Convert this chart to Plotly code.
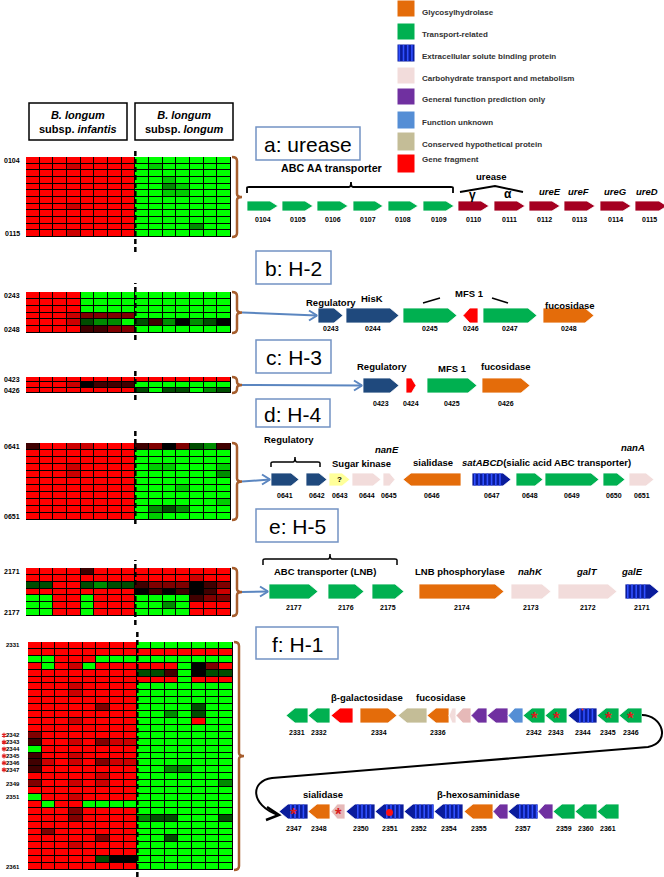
import plotly.graph_objects as go

W, H = 664, 877
FONT = "Arial, 'Liberation Sans', sans-serif"

# ---------------- heatmap data (log-ratio levels) -------------
LEVELS = {'R': -1.0, 'r': -0.8, 'd': -0.5, 'k': -0.25, 'K': 0.0,
          'g': 0.3, 'm': 0.55, 'l': 0.8, 'G': 1.0}

HM_A = ["RRRRRRRRGGGGGGG", "RRRrRRRRGlGGGGG", "RRRRRRRRGGGGGGG", "RRRRRRRRGGlGGGG",
        "RRRRRRRRGGmlGGG", "RRRRRRRRGGllGGG", "RRRRRRRRGGGGGGG", "RRRrRRRRGGGGGGG",
        "RRRRRRRRGGGGGGG", "RRRRRRRRGGGGGGG", "RRRRRRRRGGGGmGG", "RRRrRRRRGGGGGGG"]
HM_B = ["RRRRGGGGGGGGGGG", "RRRRGGGGGGGGGGG", "RRRRGGGGGGGGGGG", "RRRrddddGGGGGGG",
        "RRRrgmmGgkmKmgK", "RRRRkkddGGGGGGG"]
HM_C = ["RRRRRRRRRRRRRRR", "RRRrKkkkGGGGGGG", "RRRRRRRRgGggGmg"]
HM_D = ["kRRrrRRRkdKdgmk", "RRRRRRRRGGGGGGG", "RRRRRRRRGGGGGGG", "RRRrRRRRGllGGGl",
        "RRRrRRRRGGGGGGm", "RRRRRRRRGGGGGGG", "RRRRRRRRGGGlGGG", "RRRRRRRRGGGGGGG",
        "RRRRRRRRGGGGGGl", "RRRRRRRRGmgmGGG", "RRRRRRRRGlGGGGG"]
HM_E = ["RRRRkRRRRRRRRRR", "RRRRRRRRRRRRrRR", "ggRRgmggkdddKkd", "RRRRRRRRKkKkKkr",
        "GGRRGRRRGGGGkdd", "GGRRGRRRGGmGRRR", "GGRRGRRRGGGGRRR"]
HM_F = ["RRRRRRRRGGGGGGG", "RRRRRRRRRRRRRRR", "GGRRRGGGGGGGGGG", "RGRrGRRRRRRGKdR",
        "RRRRRRRRggkGKgg", "RRRRRRRRRRRGRRR", "RRRrRRRRGGGGGGG", "RRRrRRRRGGGGGGG",
        "RRRRRRRRGGGGGGG", "RRRRRdRRGGGGgGG", "RRRRRRRRGGmGgGG", "RRRrRRRRGGGGRGG",
        "RRRRRRRRGGGGGGG", "dRRRRRRRGGGGGGG", "kRRrRdrrGGGGGGG", "GRRRRRRRGGGGGGG",
        "kRRrRRRRGGGGGGG", "krRrRdrrGGGGGGG", "kRRRRRRRGGmmGGG", "RRRRRrRRGGGGGGG",
        "dRRrRrRRGGGGGGm", "RRRRRRRRGGGGGGG", "GRRrRRRRGGGGGGG", "RGRRGGGGGGGGGGG",
        "RRRdRRRRGGGGGGG", "RRRdRRRRmggGGGg", "RRRRRRRRGGGGGGG", "RdRRRRRRGGGGGGG",
        "RRRRRdRRGGgGGGG", "RRRrRRRRGGGGGGG", "RRRRRRRRGGGGGGG", "RRRRRgKKGGGGGGG",
        "RRRRRRRRGGGGGGG"]

ROWLAB_A = [(0, "0104", False), (11, "0115", False)]
ROWLAB_B = [(0, "0243", False), (5, "0248", False)]
ROWLAB_C = [(0, "0423", False), (2, "0426", False)]
ROWLAB_D = [(0, "0641", False), (10, "0651", False)]
ROWLAB_E = [(0, "2171", False), (6, "2177", False)]
ROWLAB_F = [(0, "2331", False), (13, "2342", True), (14, "2343", True), (15, "2344", True),
            (16, "2345", True), (17, "2346", True), (18, "2347", True), (20, "2349", False),
            (22, "2351", False), (32, "2361", False)]

# ---------------- gene clusters: (locus, start, end, strand, category, mark) ----------
GENES_A = [("0104", 247, 278, 1, "transport", ""), ("0105", 282, 313, 1, "transport", ""),
           ("0106", 317, 348, 1, "transport", ""), ("0107", 353, 383, 1, "transport", ""),
           ("0108", 388, 418, 1, "transport", ""), ("0109", 423, 454, 1, "transport", ""),
           ("0110", 458, 489, 1, "urease", ""), ("0111", 494, 525, 1, "urease", ""),
           ("0112", 529, 560, 1, "urease", ""), ("0113", 564, 595, 1, "urease", ""),
           ("0114", 600, 631, 1, "urease", ""), ("0115", 635, 667, 1, "urease", "")]
GENES_B = [("0243", 318, 343, 1, "reg", ""), ("0244", 346, 399, 1, "reg", ""),
           ("0245", 403, 457, 1, "transport", ""), ("0246", 463, 478, -1, "fragment", ""),
           ("0247", 483, 537, 1, "transport", ""), ("0248", 543, 594, 1, "glyco", "")]
GENES_C = [("0423", 363, 399, 1, "reg", ""), ("0424", 406, 416, 1, "fragment", ""),
           ("0425", 427, 477, 1, "transport", ""), ("0426", 482, 530, 1, "glyco", "")]
GENES_D = [("0641", 271, 299, 1, "reg", ""), ("0642", 306, 327, 1, "reg", ""),
           ("0643", 329, 350, 1, "kinase", "?"), ("0644", 352, 381, 1, "carb", ""),
           ("0645", 383, 395, 1, "carb", ""), ("0646", 403, 461, -1, "glyco", ""),
           ("0647", 472, 511, 1, "esbp", ""), ("0648", 516, 543, 1, "transport", ""),
           ("0649", 545, 599, 1, "transport", ""), ("0650", 603, 625, 1, "transport", ""),
           ("0651", 629, 654, 1, "carb", "")]
GENES_E = [("2177", 269, 318, 1, "transport", ""), ("2176", 328, 364, 1, "transport", ""),
           ("2175", 372, 404, 1, "transport", ""), ("2174", 419, 504, 1, "glyco", ""),
           ("2173", 511, 551, 1, "carb", ""), ("2172", 558, 617, 1, "carb", ""),
           ("2171", 625, 659, 1, "esbp", "")]
GENES_F1 = [("2331", 286, 308, -1, "transport", ""), ("2332", 308, 330, -1, "transport", ""),
            ("", 331, 353, -1, "fragment", ""), ("2334", 360, 397, 1, "glyco", ""),
            ("", 398, 427, -1, "conserved", ""), ("2336", 427, 449, -1, "glyco", ""),
            ("", 449, 456, -1, "carb", ""), ("", 456, 471, -1, "carb2", ""),
            ("", 471, 487, -1, "general", ""), ("", 487, 508, -1, "general", ""),
            ("", 508, 523, -1, "unknown", ""), ("2342", 523, 545, -1, "transport", "*"),
            ("2343", 545, 567, -1, "transport", "*"), ("2344", 568, 597, -1, "esbp", "'"),
            ("2345", 597, 619, -1, "transport", "*"), ("2346", 619, 642, -1, "transport", "*")]
GENES_F2 = [("2347", 279, 308, -1, "esbp", "*"), ("2348", 308, 330, -1, "glyco", ""),
            ("", 331, 345, -1, "carb2", "*"), ("2350", 346, 375, -1, "esbp", ""),
            ("2351", 375, 404, -1, "esbp", "o"), ("2352", 404, 434, -1, "esbp", ""),
            ("2354", 434, 463, -1, "esbp", ""), ("2355", 464, 493, -1, "glyco", ""),
            ("", 493, 508, -1, "general", ""), ("2357", 508, 538, -1, "esbp", ""),
            ("", 538, 553, -1, "general", ""), ("2359", 553, 575, -1, "transport", ""),
            ("2360", 575, 597, -1, "transport", ""), ("2361", 597, 619, -1, "transport", "")]

LEGEND_LABELS = ["Glycosylhydrolase", "Transport-related", "Extracellular solute binding protein",
                 "Carbohydrate transport and metabolism", "General function prediction only",
                 "Function unknown", "Conserved hypothetical protein", "Gene fragment"]
LEGEND_CATS = ["glyco", "transport", "esbp", "carb", "general", "unknown", "conserved", "fragment"]

COLORS = {"glyco": "#E46C0A", "transport": "#00B050", "esbp": "#0A1C9C", "carb": "#F2DCDB",
          "carb2": "#E6B9B8", "general": "#7030A0", "unknown": "#558ED5",
          "conserved": "#C4BD97", "fragment": "#FF0000", "urease": "#A50021",
          "reg": "#1F497D", "kinase": "#FFFF99"}
STRIPE = "#3050FF"
BROWN = "#A65E2E"
BLUE = "#5B86C0"
LS = 9.5  # cluster annotation font size

fig = go.Figure()
shapes, annos = [], []

# overlay (diagram) axis spanning the whole page in pixel units
fig.add_trace(go.Scatter(x=[0], y=[0], mode="markers", marker=dict(opacity=0),
                         hoverinfo="skip", showlegend=False, xaxis="x", yaxis="y"))
layout_axes = dict(
    xaxis=dict(domain=[0, 1], range=[0, W], visible=False, fixedrange=True),
    yaxis=dict(domain=[0, 1], range=[H, 0], visible=False, fixedrange=True),
)

def T(text, x, y, size=8, bold=True, color="black", xanchor="center", italic=False, **kw):
    t = text
    if italic:
        t = "<i>" + t + "</i>"
    if bold:
        t = "<b>" + t + "</b>"
    annos.append(dict(text=t, x=x, y=y, xref="x", yref="y", showarrow=False,
                      xanchor=xanchor, yanchor="middle",
                      font=dict(family=FONT, size=size, color=color), **kw))

def line_path(path, color="black", width=1.5, dash=None):
    d = dict(type="path", path=path, xref="x", yref="y", layer="above",
             line=dict(color=color, width=width))
    if dash:
        d["line"]["dash"] = dash
    shapes.append(d)

# ---------------- heatmaps ----------------
HM = [(HM_A, ROWLAB_A, (26, 231, 157, 237), (148, 252)),
      (HM_B, ROWLAB_B, (26, 231, 292, 333), (283, 340)),
      (HM_C, ROWLAB_C, (26, 231, 377, 393), (370, 400)),
      (HM_D, ROWLAB_D, (26, 231, 443, 520), (431, 524)),
      (HM_E, ROWLAB_E, (26, 231, 568, 616), (560, 625)),
      (HM_F, ROWLAB_F, (28, 233, 642, 870), (632, 877))]

for i, (rows, labs, (x0, x1, y0, y1), (d0, d1)) in enumerate(HM):
    n = i + 2
    z = [[LEVELS[c] for c in r] for r in rows]
    fig.add_trace(go.Heatmap(z=z, x=list(range(15)), y=list(range(len(rows))),
                             colorscale=[[0, "#FF0000"], [0.5, "#000000"], [1, "#00FF00"]],
                             zmin=-1, zmax=1, showscale=False, xgap=1, ygap=1,
                             hoverinfo="skip", xaxis=f"x{n}", yaxis=f"y{n}"))
    layout_axes[f"xaxis{n}"] = dict(domain=[x0 / W, x1 / W], range=[-0.5, 14.5],
                                    visible=False, fixedrange=True, anchor=f"y{n}")
    layout_axes[f"yaxis{n}"] = dict(domain=[1 - y1 / H, 1 - y0 / H],
                                    range=[len(rows) - 0.5, -0.5],
                                    visible=False, fixedrange=True, anchor=f"x{n}")
    shapes.append(dict(type="rect", xref="paper", yref="paper", x0=x0 / W, x1=x1 / W,
                       y0=1 - y1 / H, y1=1 - y0 / H, fillcolor="black",
                       line=dict(width=0), layer="below"))
    # dashed separator between subspecies (after 8 infantis strains)
    shapes.append(dict(type="line", xref=f"x{n}", yref="paper", x0=7.5, x1=7.5,
                       y0=1 - d1 / H, y1=1 - d0 / H, layer="above",
                       line=dict(color="black", width=2.5, dash="5px,3px")))
    fs = 6 if len(labs) > 2 else 7
    rh = len(rows) / (y1 - y0)  # rows per pixel on this heatmap's scale
    for (ri, txt, star) in labs:
        annos.append(dict(text="<b>" + txt + "</b>", x=22 / W, y=ri, xref="paper", yref=f"y{n}",
                          showarrow=False, xanchor="right", yanchor="middle",
                          font=dict(family=FONT, size=fs, color="black")))
        if star:
            # small red asterisk drawn on the heatmap's row scale
            cx, r = 4.0, 2.4
            pth = []
            for dx, dy in [(0, r), (r * 0.87, r * 0.5), (r * 0.87, -r * 0.5)]:
                pth.append(f"M {(cx - dx) / W},{ri - dy * rh} L {(cx + dx) / W},{ri + dy * rh}")
            shapes.append(dict(type="path", path=" ".join(pth), xref="paper", yref=f"y{n}",
                               line=dict(color="#E02020", width=1.2), layer="above"))
    # brown bracket
    R = x1
    ym = (y0 + y1) / 2
    line_path(f"M {R+1},{y0} Q {R+6},{y0} {R+6},{y0+4} L {R+6},{ym-3} Q {R+6},{ym} {R+11},{ym} "
              f"Q {R+6},{ym} {R+6},{ym+3} L {R+6},{y1-4} Q {R+6},{y1} {R+1},{y1}",
              color=BROWN, width=2.5)

# header boxes
for (bx0, bx1, sub) in [(29, 127, "infantis"), (135, 233, "longum")]:
    shapes.append(dict(type="rect", xref="x", yref="y", x0=bx0, x1=bx1, y0=103, y1=140,
                       line=dict(color="black", width=1.5), layer="above"))
    annos.append(dict(text=f"<b><i>B. longum</i></b><br><b>subsp. <i>{sub}</i></b>",
                      x=(bx0 + bx1) / 2, y=121.5, xref="x", yref="y", showarrow=False,
                      xanchor="center", yanchor="middle",
                      font=dict(family=FONT, size=11, color="black")))

# connectors from brackets to gene clusters
def connector(xs, ys, xe, ye):
    line_path(f"M {xs},{ys} L {xe},{ye}", color=BLUE, width=2)
    line_path(f"M {xe-8},{ye-5} L {xe},{ye} L {xe-8},{ye+5}", color=BLUE, width=2)

connector(242, 312.5, 317, 315.5)
connector(242, 385, 362, 385.5)
connector(242, 481.5, 270, 479.5)
connector(242, 592, 268, 591.5)

# ---------------- genes ----------------
def gene(x0, x1, yc, h, strand, cat, mark):
    L = x1 - x0
    head = min(max(8, 0.6 * h), 0.45 * L)
    t, b = yc - h / 2, yc + h / 2
    if strand > 0:
        pts = [(x0, t), (x1 - head, t), (x1, yc), (x1 - head, b), (x0, b)]
        body = (x0, x1 - head)
    else:
        pts = [(x1, t), (x0 + head, t), (x0, yc), (x0 + head, b), (x1, b)]
        body = (x0 + head, x1)
    path = "M " + " L ".join(f"{x:.1f},{y:.1f}" for x, y in pts) + " Z"
    shapes.append(dict(type="path", path=path, xref="x", yref="y", layer="above",
                       fillcolor=COLORS[cat], line=dict(color="white", width=0.8)))
    if cat == "esbp":
        s = body[0] + 2
        while s < body[1] - 2:
            shapes.append(dict(type="rect", xref="x", yref="y", x0=s, x1=s + 1.6,
                               y0=t + 0.6, y1=b - 0.6, fillcolor=STRIPE,
                               line=dict(width=0), layer="above"))
            s += 4.2
    cx = (x0 + x1) / 2
    if mark == "*":
        T("*", cx, yc + 3, size=17, bold=True, color="#D81E1E")
    elif mark == "?":
        T("?", cx, yc, size=8, bold=True)
    elif mark == "o":
        shapes.append(dict(type="circle", xref="x", yref="y", x0=cx - 3.5, x1=cx + 3.5,
                           y0=yc - 2.5, y1=yc + 4.5, fillcolor="#FF1010",
                           line=dict(width=0), layer="above"))
    elif mark == "'":
        shapes.append(dict(type="circle", xref="x", yref="y", x0=cx - 1, x1=cx + 1,
                           y0=t + 0.5, y1=t + 2.5, fillcolor="#FF3030",
                           line=dict(width=0), layer="above"))

ROWS = [(GENES_A, 206, 10, 219.5), (GENES_B, 315.5, 15, 328.5), (GENES_C, 385.5, 15, 403),
        (GENES_D, 479.5, 13, 495.5), (GENES_E, 591.5, 15, 607.5),
        (GENES_F1, 715.5, 15, 732), (GENES_F2, 811.5, 15, 828)]
for genes, yc, h, ly in ROWS:
    for (lab, x0, x1, strand, cat, mark) in genes:
        gene(x0, x1, yc, h, strand, cat, mark)
        if lab:
            T(lab, min((x0 + x1) / 2, 649), ly, size=7)

# ---------------- cluster annotations ----------------
# a: urease
line_path("M 247,193 L 247,188 Q 247,187 249,187 L 349,187 Q 351,187 351,182 Q 351,187 353,187 "
          "L 451,187 Q 453,187 453,188 L 453,193", width=1.8)
T("ABC AA transporter", 331, 168, size=10.7)
T("urease", 491, 176, size=LS)
line_path("M 460,192 L 495,186 L 523,192", width=1.8)
T("γ", 472, 195, size=12)
T("α", 508, 194, size=12)
for nm, x in [("ureE", 550), ("ureF", 578), ("ureG", 615), ("ureD", 647)]:
    T(nm, x, 191, size=LS, italic=True)
# b: H-2
T("Regulatory", 331, 302, size=LS)
T("HisK", 372, 298, size=LS)
T("MFS 1", 469, 293, size=LS)
line_path("M 423,303 L 440,298", width=1.5)
line_path("M 492,298 L 508,303", width=1.5)
T("fucosidase", 570, 305, size=LS)
# c: H-3
T("Regulatory", 382, 366, size=LS)
T("MFS 1", 452, 368, size=LS)
T("fucosidase", 506, 366, size=LS)
# d: H-4
T("Regulatory", 289, 439, size=LS)
line_path("M 271,467 L 271,463 Q 271,462 273,462 L 293,462 Q 295,462 295,457 Q 295,462 297,462 "
          "L 318,462 Q 320,462 320,463 L 320,467", width=1.5)
T("Sugar kinase", 361, 463, size=LS)
T("nanE", 387, 449, size=LS, italic=True)
T("sialidase", 433, 462, size=LS)
T("<i>satABCD</i>(sialic acid ABC transporter)", 546, 462, size=LS)
T("nanA", 633, 447, size=LS, italic=True)
# e: H-5
line_path("M 263,565 L 263,560 Q 263,559 265,559 L 328,559 Q 330,559 330,554 Q 330,559 332,559 "
          "L 395,559 Q 397,559 397,560 L 397,565", width=1.5)
T("ABC transporter (LNB)", 325, 571, size=LS)
T("LNB phosphorylase", 460, 571, size=LS)
T("nahK", 530, 571, size=LS, italic=True)
T("galT", 587, 571, size=LS, italic=True)
T("galE", 632, 571, size=LS, italic=True)
# f: H-1
T("β-galactosidase", 367, 697, size=LS)
T("fucosidase", 441, 697, size=LS)
T("sialidase", 323, 794, size=LS)
T("β-hexosaminidase", 478, 794, size=LS)
line_path("M 642,715 C 662,715 672,742 648,747 L 272,778 C 250,781 250,805 278,815", width=2)
line_path("M 267,807 L 279,815 L 266,820", width=2.5)

# panel label boxes
for txt, x0, x1, y0, y1 in [("a: urease", 256, 360, 127, 160), ("b: H-2", 256, 331, 251, 284),
                            ("c: H-3", 256, 331, 340, 373), ("d: H-4", 256, 330, 399, 427),
                            ("e: H-5", 256, 338, 509, 542), ("f: H-1", 256, 338, 627, 659)]:
    shapes.append(dict(type="rect", xref="x", yref="y", x0=x0, x1=x1, y0=y0, y1=y1,
                       line=dict(color="#7393C4", width=1.5), layer="above"))
    annos.append(dict(text=txt, x=(x0 + x1) / 2, y=(y0 + y1) / 2 + 1, xref="x", yref="y",
                      showarrow=False, xanchor="center", yanchor="middle",
                      font=dict(family=FONT, size=21, color="black")))

# ---------------- legend ----------------
LEG_SQ = [(0, 17), (23, 40), (44, 62), (67, 84), (88, 105), (111, 129), (132, 151), (154, 173)]
LEG_TY = [12, 34, 56, 78, 99, 122, 144, 159]
for cat, lab, (sy0, sy1), ty in zip(LEGEND_CATS, LEGEND_LABELS, LEG_SQ, LEG_TY):
    shapes.append(dict(type="rect", xref="x", yref="y", x0=397, x1=415, y0=sy0, y1=sy1,
                       fillcolor=COLORS[cat], line=dict(color="white", width=1), layer="above"))
    if cat == "esbp":
        s = 398.5
        while s < 414:
            shapes.append(dict(type="rect", xref="x", yref="y", x0=s, x1=s + 1.6, y0=sy0 + 1,
                               y1=sy1 - 1, fillcolor=STRIPE, line=dict(width=0), layer="above"))
            s += 4.2
    T(lab, 420, ty, size=8, color="#333333", xanchor="left")

fig.update_layout(width=W, height=H, margin=dict(l=0, r=0, t=0, b=0),
                  paper_bgcolor="white", plot_bgcolor="rgba(0,0,0,0)",
                  showlegend=False, shapes=shapes, annotations=annos, **layout_axes)
fig.write_html("out.html", config={"displayModeBar": False},
               post_script="document.body.style.margin='0';document.body.style.overflow='hidden';")
